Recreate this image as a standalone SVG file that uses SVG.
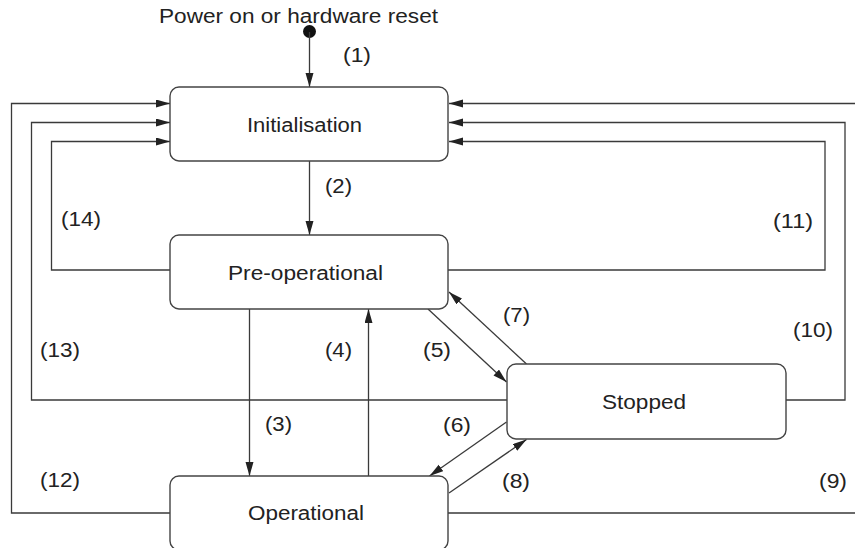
<svg xmlns="http://www.w3.org/2000/svg" width="855" height="548" viewBox="0 0 855 548">
<defs>
<marker id="arr" markerUnits="userSpaceOnUse" markerWidth="15" markerHeight="9" refX="14" refY="4" orient="auto">
<path d="M0,0 L14,4 L0,8 z" fill="#222"/>
</marker>
<style>
.box{fill:#fff;stroke:#444;stroke-width:1.4}
.ln{fill:none;stroke:#3a3a3a;stroke-width:1.3}
.ar{fill:none;stroke:#3a3a3a;stroke-width:1.3;marker-end:url(#arr)}
text{font-family:"Liberation Sans",Arial,sans-serif;font-size:19.5px;fill:#222}
.c{text-anchor:middle}
</style>
</defs>
<rect width="855" height="548" fill="#fff"/>
<g id="connectors">
<circle cx="309.5" cy="31.5" r="6.5" fill="#111"/>
<line class="ar" x1="309.5" y1="32" x2="309.5" y2="87"/>
<line class="ar" x1="309.5" y1="161" x2="309.5" y2="235"/>
<line class="ar" x1="249.5" y1="309" x2="249.5" y2="476"/>
<line class="ar" x1="368.5" y1="476" x2="368.5" y2="309"/>
<line class="ar" x1="428" y1="309" x2="506.5" y2="382"/>
<line class="ar" x1="526.5" y1="364" x2="449" y2="292"/>
<line class="ar" x1="506.5" y1="422" x2="429.5" y2="476"/>
<line class="ar" x1="449" y1="493" x2="526.5" y2="439.5"/>
<polyline class="ar" points="170,513 11.5,513 11.5,103.5 170,103.5"/>
<polyline class="ar" points="507,400 31.5,400 31.5,122.5 170,122.5"/>
<polyline class="ar" points="170,270 51.5,270 51.5,141.5 170,141.5"/>
<polyline class="ar" points="448,513 870,513 870,103.5 449,103.5"/>
<polyline class="ar" points="786,400 845,400 845,122.5 449,122.5"/>
<polyline class="ar" points="448,270 825,270 825,141.5 449,141.5"/>
</g>
<g id="start">
<text x="159" y="23" textLength="279" lengthAdjust="spacingAndGlyphs">Power on or hardware reset</text>
</g>
<g id="initialisation">
<rect class="box" x="170" y="87" width="278" height="74" rx="9"/>
<text x="247" y="131.5" textLength="115" lengthAdjust="spacingAndGlyphs">Initialisation</text>
</g>
<g id="preoperational">
<rect class="box" x="170" y="235" width="278" height="74" rx="9"/>
<text x="228" y="280" textLength="155" lengthAdjust="spacingAndGlyphs">Pre-operational</text>
</g>
<g id="operational">
<rect class="box" x="170" y="476" width="278" height="74" rx="9"/>
<text x="248" y="520" textLength="116" lengthAdjust="spacingAndGlyphs">Operational</text>
</g>
<g id="stopped">
<rect class="box" x="507" y="364" width="279" height="75" rx="9"/>
<text x="602" y="408.5" textLength="84" lengthAdjust="spacingAndGlyphs">Stopped</text>
</g>
<g id="labels">
<text x="343" y="61.5" textLength="28" lengthAdjust="spacingAndGlyphs">(1)</text>
<text x="325" y="192.5" textLength="27" lengthAdjust="spacingAndGlyphs">(2)</text>
<text x="265" y="430.5" textLength="27" lengthAdjust="spacingAndGlyphs">(3)</text>
<text x="325" y="356.5" textLength="27" lengthAdjust="spacingAndGlyphs">(4)</text>
<text x="423" y="356.5" textLength="28" lengthAdjust="spacingAndGlyphs">(5)</text>
<text x="443" y="431.5" textLength="28" lengthAdjust="spacingAndGlyphs">(6)</text>
<text x="503" y="321.5" textLength="27" lengthAdjust="spacingAndGlyphs">(7)</text>
<text x="502" y="488" textLength="28" lengthAdjust="spacingAndGlyphs">(8)</text>
<text x="819" y="488" textLength="28" lengthAdjust="spacingAndGlyphs">(9)</text>
<text x="793" y="336.5" textLength="40" lengthAdjust="spacingAndGlyphs">(10)</text>
<text x="773" y="228" textLength="40" lengthAdjust="spacingAndGlyphs">(11)</text>
<text x="40" y="486.5" textLength="40" lengthAdjust="spacingAndGlyphs">(12)</text>
<text x="40" y="356.5" textLength="40" lengthAdjust="spacingAndGlyphs">(13)</text>
<text x="61" y="226" textLength="40" lengthAdjust="spacingAndGlyphs">(14)</text>
</g>
</svg>
